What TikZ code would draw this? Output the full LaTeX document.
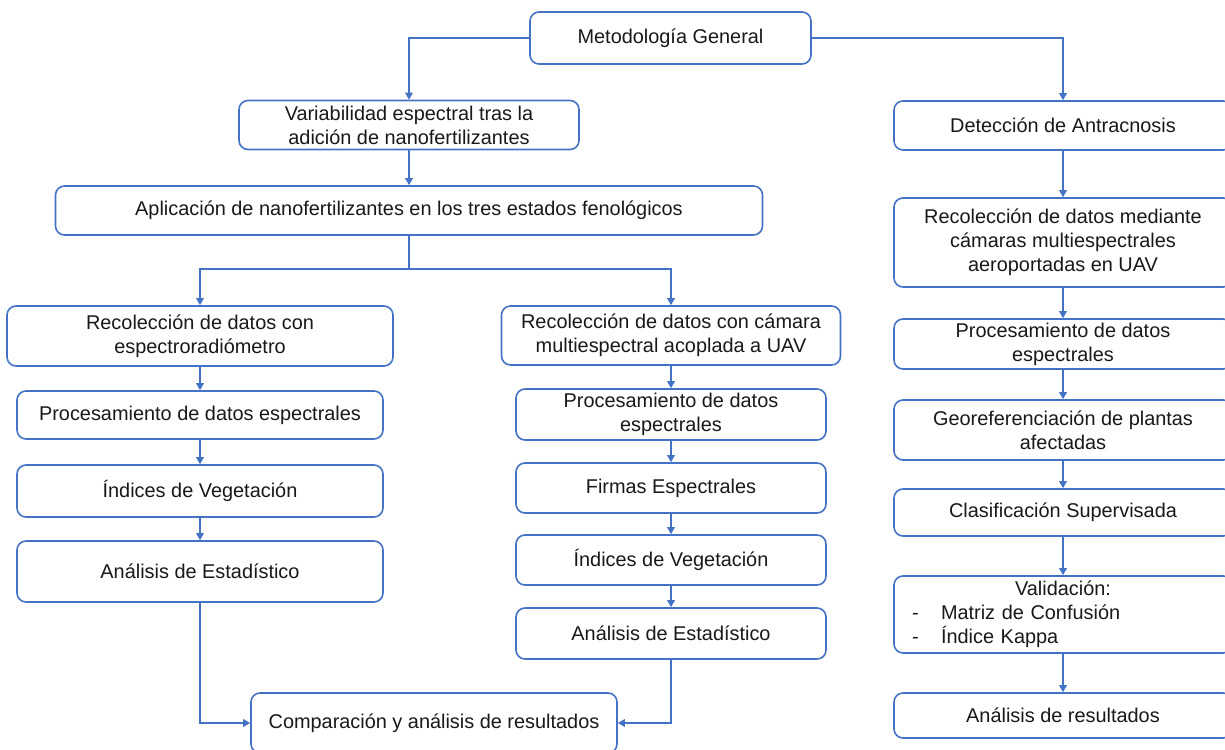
\documentclass[tikz,border=0pt]{standalone}
\usepackage{fontspec}
\setmainfont{Liberation Sans}
\usetikzlibrary{arrows.meta}
\definecolor{azul}{HTML}{4472C4}

\begin{document}
\begin{tikzpicture}[x=1pt,y=-1pt]
        \tikzstyle{every node} = [rectangle, rounded corners=9pt, draw=azul, line width=1.6pt, fill=white, text=black!90, align=center, inner sep=0pt, font=\fontsize{19.9}{24}\selectfont]
        \tikzstyle{flecha} = [draw=azul, line width=1.6pt, -{Triangle[length=7pt,width=7.5pt]}]
        \clip (0,0) rectangle (1225,749);
        \node[minimum width=281, minimum height=52] (met) at (670.5,38) {Metodología General};
        \node[minimum width=340, minimum height=49] (var) at (409,125) {Variabilidad espectral tras la\\adición de nanofertilizantes};
        \node[minimum width=707, minimum height=49] (apl) at (409,210.5) {Aplicación de nanofertilizantes en los tres estados fenológicos};
        \node[minimum width=386, minimum height=60] (rec1) at (200,336) {Recolección de datos con\\espectroradiómetro};
        \node[minimum width=366, minimum height=48] (proc1) at (200,415) {Procesamiento de datos espectrales};
        \node[minimum width=366, minimum height=52] (ind1) at (200,491) {Índices de Vegetación};
        \node[minimum width=366, minimum height=61] (ana1) at (200,571.5) {Análisis de Estadístico};
        \node[minimum width=339, minimum height=59] (rec2) at (671,335.5) {Recolección de datos con cámara\\multiespectral acoplada a UAV};
        \node[minimum width=310, minimum height=51] (proc2) at (671,414.5) {Procesamiento de datos\\espectrales};
        \node[minimum width=310, minimum height=50] (fir) at (671,488) {Firmas Espectrales};
        \node[minimum width=310, minimum height=50] (ind2) at (671,560) {Índices de Vegetación};
        \node[minimum width=310, minimum height=51] (ana2) at (671,633.5) {Análisis de Estadístico};
        \node[minimum width=366, minimum height=60] (comp) at (434,723) {Comparación y análisis de resultados};
        \node[minimum width=338, minimum height=49] (det) at (1063,125.5) {Detección de Antracnosis};
        \node[minimum width=338, minimum height=89] (rec3) at (1063,242.5) {Recolección de datos mediante\\cámaras multiespectrales\\aeroportadas en UAV};
        \node[minimum width=338, minimum height=50] (proc3) at (1063,344) {Procesamiento de datos\\espectrales};
        \node[minimum width=338, minimum height=60] (geo) at (1063,430) {Georeferenciación de plantas\\afectadas};
        \node[minimum width=338, minimum height=47] (cla) at (1063,512.5) {Clasificación Supervisada};
        \node[minimum width=338, minimum height=77, text width=302, inner xsep=18pt, align=left] (val) at (1063,614.5) {\centering Validación:\par\raggedright\makebox[29pt][l]{-}Matriz de Confusión\\\makebox[29pt][l]{-}Índice Kappa};
        \node[minimum width=338, minimum height=45] (res) at (1063,715.5) {Análisis de resultados};
        \coordinate (rama) at (409,269);
        \draw[flecha] (met) -| (var);
        \draw[flecha] (met) -| (det);
        \draw[draw=azul, line width=1.6pt] (apl) -- (rama);
        \draw[flecha] (rama) -| (rec1);
        \draw[flecha] (rama) -| (rec2);
        \foreach \from/\to in {var/apl, rec1/proc1, proc1/ind1, ind1/ana1, rec2/proc2, proc2/fir, fir/ind2, ind2/ana2, det/rec3, rec3/proc3, proc3/geo, geo/cla, cla/val, val/res}
            \draw[flecha] (\from) -- (\to);
        \draw[flecha] (ana1) |- (comp);
        \draw[flecha] (ana2) |- (comp);
\end{tikzpicture}
\end{document}
